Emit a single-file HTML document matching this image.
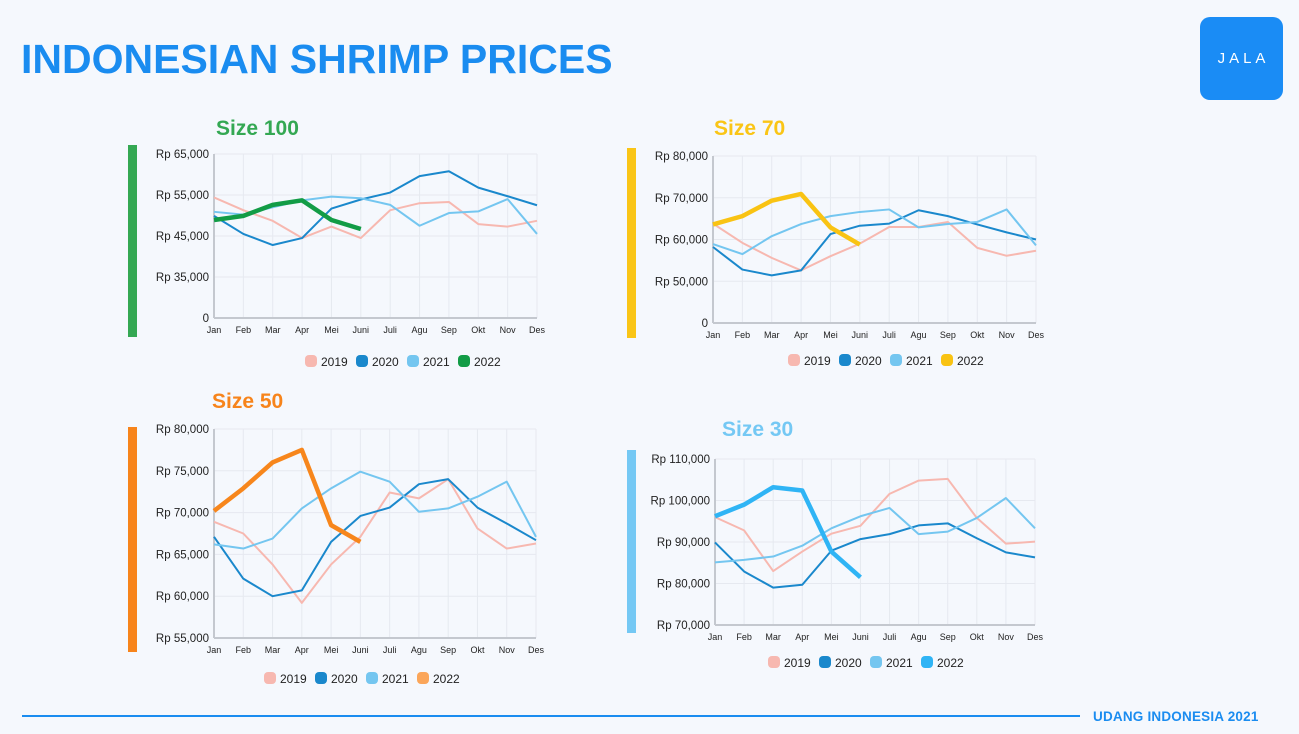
<!DOCTYPE html>
<html><head><meta charset="utf-8">
<style>
body{margin:0;width:1299px;height:734px;background:#f5f8fd;overflow:hidden;font-family:"Liberation Sans",sans-serif;position:relative}
.abs{position:absolute}
</style></head>
<body>
<div class="abs" style="left:21px;top:36px;font-size:41px;font-weight:bold;color:#1a8cf0;white-space:nowrap">INDONESIAN SHRIMP PRICES</div>
<div class="abs" style="left:1200px;top:17px;width:83px;height:83px;border-radius:10px;background:#1a8cf5;color:#fff;font-size:15px;letter-spacing:4px;text-align:center;line-height:83px;padding-left:4px;box-sizing:border-box">JALA</div>
<div class="abs" style="left:22px;top:715px;width:1058px;height:2px;background:#1a8cf0"></div>
<div class="abs" style="left:1093px;top:709px;font-size:13.5px;letter-spacing:0.2px;font-weight:bold;color:#1a8cf0;white-space:nowrap">UDANG INDONESIA 2021</div>
<svg id="svg" class="abs" style="left:0;top:0" width="1299" height="734"></svg>
<script>
const months=["Jan","Feb","Mar","Apr","Mei","Juni","Juli","Agu","Sep","Okt","Nov","Des"];
const years=["2019","2020","2021","2022"];
// Size 100
const s100Ticks=[0,35000,45000,55000,65000];
const s100Labels=["0","Rp 35,000","Rp 45,000","Rp 55,000","Rp 65,000"];
const s100y2019=[54.4,51.3,48.7,44.5,47.3,44.5,51.3,53.0,53.3,47.9,47.3,48.7];
const s100y2020=[49.9,45.5,42.8,44.5,51.7,53.9,55.6,59.6,60.8,56.8,54.7,52.5];
const s100y2021=[50.9,50.2,52.0,53.7,54.6,54.2,52.6,47.5,50.6,51.0,54.0,45.5];
const s100y2022=[48.9,49.9,52.6,53.7,48.9,46.7];
// Size 70
const s70Ticks=[0,50000,60000,70000,80000];
const s70Labels=["0","Rp 50,000","Rp 60,000","Rp 70,000","Rp 80,000"];
const s70y2019=[63.8,59.2,55.6,52.6,56.0,59.0,63.0,63.0,64.2,58.0,56.1,57.3];
const s70y2020=[58.2,52.8,51.4,52.6,61.3,63.3,63.8,67.0,65.6,63.6,61.7,60.0];
const s70y2021=[58.9,56.5,60.8,63.7,65.6,66.6,67.2,62.9,63.7,64.2,67.2,58.6];
const s70y2022=[63.6,65.6,69.3,70.9,62.9,58.8];
// Size 50
const s50Ticks=[55000,60000,65000,70000,75000,80000];
const s50Labels=["Rp 55,000","Rp 60,000","Rp 65,000","Rp 70,000","Rp 75,000","Rp 80,000"];
const s50y2019=[68.9,67.5,63.8,59.2,63.8,67.1,72.4,71.7,74.0,68.1,65.7,66.3];
const s50y2020=[67.1,62.1,60.0,60.7,66.5,69.6,70.6,73.4,74.0,70.6,68.7,66.7];
const s50y2021=[66.2,65.7,66.9,70.5,72.9,74.9,73.7,70.1,70.5,71.9,73.7,67.1];
const s50y2022=[70.2,72.9,76.0,77.5,68.5,66.5];
// Size 30
const s30Ticks=[70000,80000,90000,100000,110000];
const s30Labels=["Rp 70,000","Rp 80,000","Rp 90,000","Rp 100,000","Rp 110,000"];
const s30y2019=[96.0,92.8,83.0,87.7,92.0,93.9,101.6,104.8,105.2,95.8,89.6,90.1];
const s30y2020=[89.9,82.9,79.0,79.7,87.9,90.7,91.9,94.0,94.5,90.9,87.5,86.3];
const s30y2021=[85.1,85.7,86.5,89.1,93.3,96.2,98.2,91.9,92.5,95.8,100.6,93.3];
const s30y2022=[96.2,99.0,103.2,102.4,87.7,81.5];

const NS="http://www.w3.org/2000/svg";
const svg=document.getElementById('svg');
function mk(tag,attrs,parent){const e=document.createElementNS(NS,tag);for(const k in attrs)e.setAttribute(k,attrs[k]);(parent||svg).appendChild(e);return e;}

function chart(cfg){
  const g=mk('g',{});
  
  
  const bar=mk('rect',{x:cfg.bar[0],y:cfg.bar[1],width:9,height:cfg.bar[2],fill:cfg.color},g);
  
  
  const t=mk('text',{x:cfg.title[0],y:cfg.title[1],fill:cfg.color,'font-size':21,'font-weight':'bold','font-family':'Liberation Sans'},g);
  t.textContent=cfg.titleText;
  
  
  const n=cfg.ticks.length;
  const xs=i=>cfg.x0+(cfg.x1-cfg.x0)*i/11;
  const ys=v=>{v=v*1000;let i=0;while(i<n-2&&v>cfg.ticks[i+1])i++;
    const f=(v-cfg.ticks[i])/(cfg.ticks[i+1]-cfg.ticks[i]);
    return cfg.yb-(cfg.yb-cfg.yt)*(i+f)/(n-1);};
  const tickY=i=>cfg.yb-(cfg.yb-cfg.yt)*i/(n-1);
  for(let i=0;i<12;i++){const l=mk('line',{x1:xs(i),x2:xs(i),y1:cfg.yt,y2:cfg.yb,stroke:'#e6e9f0','stroke-width':1},g);
    
    const tx=mk('text',{x:xs(i),y:cfg.yb+15,'text-anchor':'middle','font-size':9,fill:'#222'},g);tx.textContent=months[i];
    }
  for(let i=0;i<n;i++){const y=tickY(i);
    const l=mk('line',{x1:cfg.x0,x2:cfg.x1,y1:y,y2:y,stroke:i==0?'#c4c8cf':'#e6e9f0','stroke-width':i==0?2:1},g);
    
    const tx=mk('text',{x:cfg.x0-5,y:y+4,'text-anchor':'end','font-size':11.5,fill:'#222'},g);tx.textContent=cfg.labels[i];
    }
  const ax=mk('line',{x1:cfg.x0,x2:cfg.x0,y1:cfg.yt,y2:cfg.yb,stroke:'#c4c8cf','stroke-width':2},g);
  
  const cols=['#f7b8b0','#1a88cc','#74c6f0',cfg.color2];
  const widths=[2,2,2,4.5];
  cfg.series.forEach((s,k)=>{
    const p=mk('polyline',{points:s.map((v,i)=>xs(i)+','+ys(v)).join(' '),fill:'none',stroke:cols[k],'stroke-width':widths[k],'stroke-linejoin':'round'},g);
    
    
  });
  let lx=cfg.legend[0];
  years.forEach((yr,k)=>{
    const r=mk('rect',{x:lx,y:cfg.legend[1]-6,width:12,height:12,rx:4,fill:k==3?cfg.legend2022:cols[k]},g);
    
    const tx=mk('text',{x:lx+16,y:cfg.legend[1]+5,'font-size':12,fill:'#222'},g);tx.textContent=yr;
    
    lx+=51;
  });
}
chart({id:'size-100',titleText:'Size 100',color:'#34a853',color2:'#129c46',legend2022:'#129c46',bar:[128,145,192],title:[216,135],
  ticks:s100Ticks,labels:s100Labels,x0:214,x1:537,yt:154,yb:318,legend:[305,361],series:[s100y2019,s100y2020,s100y2021,s100y2022]});
chart({id:'size-70',titleText:'Size 70',color:'#fac516',color2:'#f9c313',legend2022:'#f9c313',bar:[627,148,190],title:[714,135],
  ticks:s70Ticks,labels:s70Labels,x0:713,x1:1036,yt:156,yb:323,legend:[788,360],series:[s70y2019,s70y2020,s70y2021,s70y2022]});
chart({id:'size-50',titleText:'Size 50',color:'#f7841b',color2:'#f7861c',legend2022:'#fba65a',bar:[128,427,225],title:[212,408],
  ticks:s50Ticks,labels:s50Labels,x0:214,x1:536,yt:429,yb:638,legend:[264,678],series:[s50y2019,s50y2020,s50y2021,s50y2022]});
chart({id:'size-30',titleText:'Size 30',color:'#74c8f4',color2:'#2fb4f5',legend2022:'#2fb4f5',bar:[627,450,183],title:[722,436],
  ticks:s30Ticks,labels:s30Labels,x0:715,x1:1035,yt:459,yb:625,legend:[768,662],series:[s30y2019,s30y2020,s30y2021,s30y2022]});
</script>
</body></html>
